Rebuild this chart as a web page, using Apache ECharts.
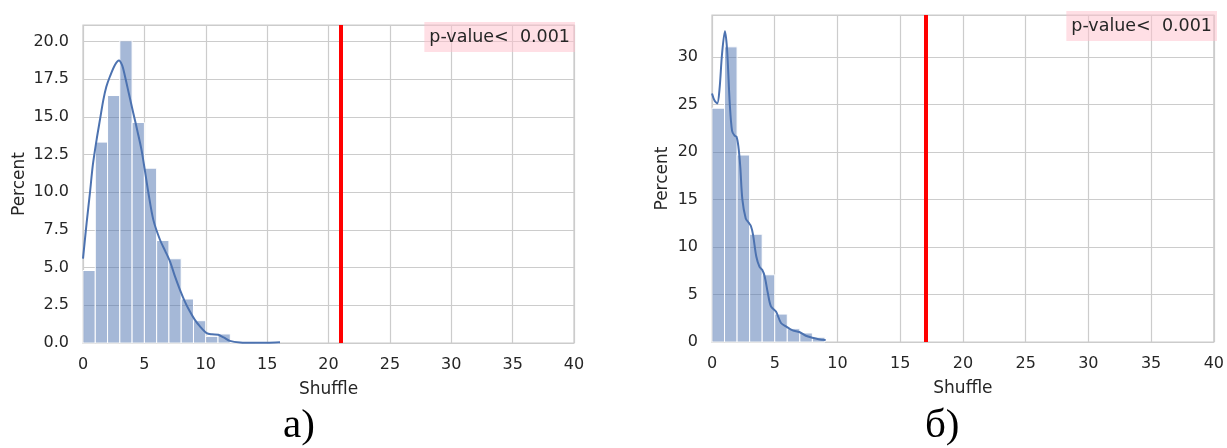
<!DOCTYPE html>
<html>
<head>
<meta charset="utf-8">
<script src="https://cdn.jsdelivr.net/npm/echarts@6/dist/echarts.min.js"></script>
<style>
html,body{margin:0;padding:0;background:#fff;}
#c{width:1227px;height:448px;}
</style>
</head>
<body>
<div id="c"></div>
<script>
// ---- data ----
const binEdgesA = [0,1,2,3,4,5,6,7,8,9,10,11,12,13,14,15,16];
const percentA = [4.81,13.33,16.42,20.05,14.63,11.6,6.8,5.59,2.92,1.48,0.44,0.6,0.04,0.02,0.0,0.04];
const kdeA = [[0,5.6],[0.3,8.0],[0.57,10],[0.8,11.8],[1.11,13.5],[1.4,14.9],[1.65,16.1],[1.9,17.0],[2.2,17.7],[2.6,18.45],[2.93,18.75],[3.2,18.4],[3.42,17.7],[3.75,16.5],[4.1,15.25],[4.45,14.0],[4.77,12.8],[5.05,11.4],[5.32,10.0],[5.73,8.17],[6.27,6.85],[6.7,6.1],[7.09,5.4],[7.5,4.4],[7.9,3.53],[8.3,2.75],[8.7,2.1],[9.1,1.55],[9.53,1.1],[10.07,0.66],[10.5,0.58],[11.02,0.55],[11.5,0.35],[11.97,0.14],[12.8,0.04],[14,0.02],[15,0.02],[16.05,0.05]];
const observedA = 21;

const binEdgesB = [0,1,2,3,4,5,6,7,8,9];
const percentB = [24.6,31.05,19.67,11.34,7.07,2.94,1.4,0.95,0.5];
const kdeB = [[0,26.15],[0.2,25.4],[0.42,25.1],[0.6,26.6],[0.8,30.3],[1.03,32.7],[1.2,30.8],[1.42,25.0],[1.6,22.2],[1.8,21.7],[1.95,21.6],[2.1,20.6],[2.25,18.5],[2.42,15.0],[2.69,13.0],[2.95,12.5],[3.1,12.2],[3.27,11.3],[3.53,9.0],[3.79,7.9],[4.0,7.6],[4.2,6.9],[4.45,5.15],[4.7,3.74],[5.1,3.2],[5.5,2.0],[5.9,1.64],[6.43,1.22],[6.96,1.05],[7.48,0.66],[8.0,0.45],[8.5,0.3],[9.06,0.21]];
const observedB = 17;

const pText = 'p-value<  0.001';
const xLabel = 'Shuffle';
const yLabel = 'Percent';
const captions = ['a)', 'б)'];

// ---- build ----
function bins(edges, vals){ return vals.map((v,i)=>[edges[i], edges[i+1], v]); }
const FONT = 'DejaVu Sans';
const TXT = '#262626';
const GRIDC = '#cccccc';

function renderBar(params, api){
  const p0 = api.coord([api.value(0), api.value(2)]);
  const p1 = api.coord([api.value(1), 0]);
  return {type:'rect', shape:{x:p0[0], y:p0[1], width:p1[0]-p0[0], height:p1[1]-p0[1]},
    style:{fill:'rgba(76,114,176,0.5)', stroke:'#ffffff', lineWidth:1}};
}

function xAxis(idx){
  return {type:'value', gridIndex:idx, min:0, max:40, interval:5,
    name:xLabel, nameLocation:'middle', nameGap:38,
    nameTextStyle:{fontFamily:FONT, fontSize:17, color:TXT},
    axisLine:{show:false}, axisTick:{show:false},
    axisLabel:{fontFamily:FONT, fontSize:16, color:TXT, margin:14},
    splitLine:{show:true, lineStyle:{color:GRIDC, width:1.2}}};
}
function yAxis(idx, max, interval, dec, gap){
  return {type:'value', gridIndex:idx, min:0, max:max, interval:interval,
    name:yLabel, nameLocation:'middle', nameGap:gap,
    nameTextStyle:{fontFamily:FONT, fontSize:17, color:TXT},
    axisLine:{show:false}, axisTick:{show:false},
    axisLabel:{fontFamily:FONT, fontSize:16, color:TXT, margin:14, showMaxLabel:false,
      formatter: v => v.toFixed(dec)},
    splitLine:{show:true, lineStyle:{color:GRIDC, width:1.2}}};
}
function redLine(x){
  return {silent:true, symbol:'none', label:{show:false}, animation:false,
    lineStyle:{color:'#ff0000', width:4, type:'solid'}, data:[{xAxis:x}]};
}

const option = {
  animation:false,
  backgroundColor:'#ffffff',
  grid:[
    {left:83, top:25, width:491, height:318, show:true, borderColor:GRIDC, borderWidth:1.25, backgroundColor:'transparent'},
    {left:712, top:15, width:505, height:327, show:true, borderColor:GRIDC, borderWidth:1.25, backgroundColor:'transparent'}
  ],
  xAxis:[xAxis(0), xAxis(1)],
  yAxis:[yAxis(0, 21.1, 2.5, 1, 55), yAxis(1, 34.4, 5, 0, 41)],
  title:[
    {text:pText, right:652, top:22, padding:[6,5,6,5], backgroundColor:'rgba(255,192,203,0.5)',
      textStyle:{fontFamily:FONT, fontSize:17.5, fontWeight:'normal', color:TXT}},
    {text:pText, right:10, top:11, padding:[6,5,6,5], backgroundColor:'rgba(255,192,203,0.5)',
      textStyle:{fontFamily:FONT, fontSize:17.5, fontWeight:'normal', color:TXT}}
  ],
  graphic:[
    {type:'text', left:283, top:406, style:{text:captions[0], fontFamily:'Liberation Serif', fontSize:41, fill:'#000'}},
    {type:'text', left:925, top:406, style:{text:captions[1], fontFamily:'Liberation Serif', fontSize:41, fill:'#000'}}
  ],
  series:[
    {type:'custom', xAxisIndex:0, yAxisIndex:0, renderItem:renderBar, encode:{x:[0,1], y:2}, data:bins(binEdgesA, percentA), z:2},
    {type:'custom', xAxisIndex:1, yAxisIndex:1, renderItem:renderBar, encode:{x:[0,1], y:2}, data:bins(binEdgesB, percentB), z:2},
    {type:'line', xAxisIndex:0, yAxisIndex:0, data:kdeA, smooth:0.3, showSymbol:false, symbol:'none',
      lineStyle:{color:'#4c72b0', width:2}, z:3, markLine:redLine(observedA)},
    {type:'line', xAxisIndex:1, yAxisIndex:1, data:kdeB, smooth:0.3, showSymbol:false, symbol:'none',
      lineStyle:{color:'#4c72b0', width:2}, z:3, markLine:redLine(observedB)}
  ]
};
const chart = echarts.init(document.getElementById('c'), null, {renderer:'canvas'});
chart.setOption(option);
</script>
</body>
</html>
